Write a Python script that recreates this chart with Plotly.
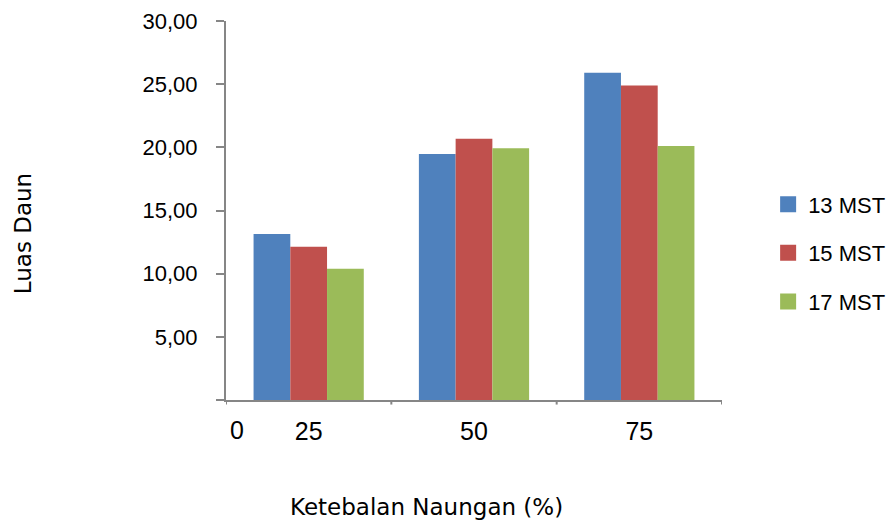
import plotly.graph_objects as go

# Leaf area by shade level, measured at three weeks after planting
shade_levels = ["25", "50", "75"]
series_names = ["13 MST", "15 MST", "17 MST"]
leaf_13 = [13.14, 19.47, 25.91]
leaf_15 = [12.14, 20.67, 24.90]
leaf_17 = [10.39, 19.92, 20.11]
colors = ["#4F81BD", "#C0504D", "#9BBB59"]

y_ticks = [0, 5, 10, 15, 20, 25, 30]
y_tick_text = ["" if v == 0 else f"{v:.2f}".replace(".", ",") for v in y_ticks]

positions = list(range(len(shade_levels)))

fig = go.Figure()
for name, vals, col in zip(series_names, [leaf_13, leaf_15, leaf_17], colors):
    fig.add_trace(go.Bar(
        x=positions, y=vals, name=name, legendgroup=name, showlegend=False,
        marker=dict(color=col, line=dict(width=0)),
    ))
# legend entries with larger square swatches
for name, col in zip(series_names, colors):
    fig.add_trace(go.Scatter(
        x=[None], y=[None], mode="markers", name=name, legendgroup=name,
        marker=dict(symbol="square", size=16, color=col),
    ))

tick_font = dict(family="Liberation Sans, Arial, sans-serif", size=22, color="#000000")
title_font = dict(family="DejaVu Sans, Verdana, sans-serif", size=23, color="#000000")

fig.update_layout(
    width=886, height=522,
    margin=dict(l=226, r=164, t=21, b=122, autoexpand=False),
    paper_bgcolor="white", plot_bgcolor="white",
    barmode="group", bargap=1/3, bargroupgap=0,
    showlegend=True,
    legend=dict(
        x=1.093, y=0.388, xanchor="left", yanchor="middle",
        font=dict(family="Liberation Sans, Arial, sans-serif", size=22, color="#000000"),
        traceorder="grouped", tracegroupgap=17, itemwidth=30,
        bgcolor="rgba(0,0,0,0)",
    ),
    xaxis=dict(
        range=[-0.5, len(shade_levels) - 0.5],
        tickmode="array", tickvals=positions, ticktext=shade_levels,
        showline=True, linecolor="#868686", linewidth=2,
        showgrid=False, zeroline=False,
        ticks="", tickfont=dict(family="Liberation Sans, Arial, sans-serif", size=25, color="#000000"),
        ticklabelstandoff=8,
    ),
    yaxis=dict(
        range=[0, 30],
        tickmode="array", tickvals=y_ticks, ticktext=y_tick_text,
        showline=True, linecolor="#868686", linewidth=2,
        showgrid=False, zeroline=False,
        ticks="outside", ticklen=8, tickcolor="#868686", tickwidth=1.5,
        tickfont=tick_font, ticklabelstandoff=14,
    ),
)

# category separator ticks below the x axis
for b in [p - 0.5 for p in positions] + [positions[-1] + 0.5]:
    fig.add_shape(type="line", xref="x", yref="paper", x0=b, x1=b, y0=0, y1=-0.012,
                  line=dict(color="#868686", width=2))

fig.add_annotation(text="0", xref="x", yref="paper", x=-0.432, y=-0.079,
                   showarrow=False, xanchor="center", yanchor="middle",
                   font=dict(family="Liberation Sans, Arial, sans-serif", size=25, color="#000000"))
fig.add_annotation(text="Ketebalan Naungan (%)", xref="paper", yref="paper",
                   x=0.404, y=-0.282, showarrow=False, xanchor="center", yanchor="middle",
                   font=title_font)
fig.add_annotation(text="Luas Daun", xref="paper", yref="paper",
                   x=-0.409, y=0.438, showarrow=False, xanchor="center", yanchor="middle",
                   textangle=-90, font=title_font)

fig.write_html("out.html")
